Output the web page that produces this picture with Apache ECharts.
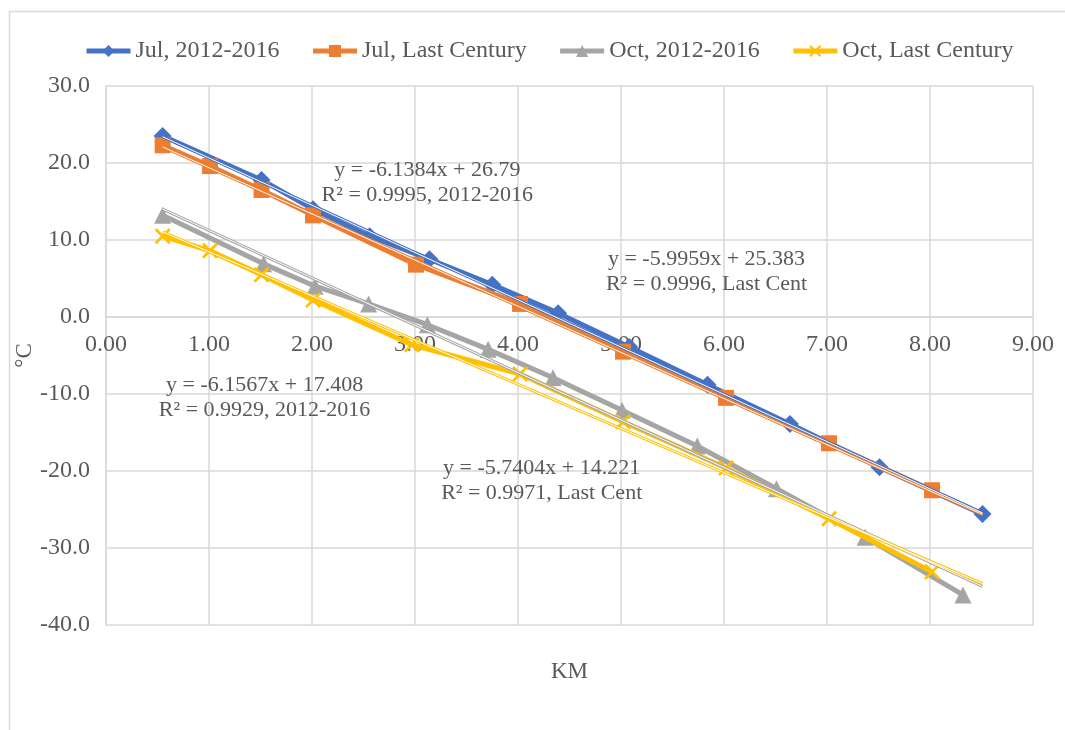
<!DOCTYPE html>
<html>
<head>
<meta charset="utf-8">
<script src="https://cdn.jsdelivr.net/npm/echarts@6/dist/echarts.min.js"></script>
<style>
  html, body { margin: 0; padding: 0; background: #fff; }
  #chart { width: 1065px; height: 730px; }
</style>
</head>
<body>
<div id="chart"></div>
<script>
// Temperature vs. altitude (KM) profiles
const seriesNames = ['Jul, 2012-2016', 'Jul, Last Century', 'Oct, 2012-2016', 'Oct, Last Century'];
const seriesColors = ['#4472C4', '#ED7D31', '#A5A5A5', '#FFC000'];

const julRecentKm = [0.55, 1.51, 2.01, 2.56, 3.14, 3.75, 4.39, 5.08, 5.84, 6.64, 7.51, 8.51];
const julRecentT  = [23.5, 17.8, 14.0, 10.5, 7.5, 4.2, 0.5, -3.9, -8.8, -13.9, -19.5, -25.6];

const julPastKm = [0.55, 1.01, 1.51, 2.01, 3.01, 4.02, 5.02, 6.02, 7.02, 8.02];
const julPastT  = [22.3, 19.6, 16.5, 13.2, 6.8, 1.7, -4.5, -10.5, -16.4, -22.5];

const octRecentKm = [0.55, 1.53, 2.03, 2.55, 3.12, 3.71, 4.34, 5.01, 5.74, 6.51, 7.37, 8.32];
const octRecentT  = [13.2, 6.9, 4.0, 1.7, -1.0, -4.2, -7.9, -12.1, -16.75, -22.3, -28.6, -36.1];

const octPastKm = [0.55, 1.01, 1.51, 2.01, 2.97, 4.02, 5.02, 6.02, 7.02, 8.02];
const octPastT  = [10.5, 8.6, 5.5, 2.2, -3.6, -7.4, -13.6, -19.6, -26.2, -33.1];

// Linear fits (slope, intercept, R²) and their label suffixes
const trendSlope     = [-6.1384, -5.9959, -6.1567, -5.7404];
const trendIntercept = [26.79, 25.383, 17.408, 14.221];
const trendR2        = ['0.9995', '0.9996', '0.9929', '0.9971'];
const trendTag       = ['2012-2016', 'Last Cent', '2012-2016', 'Last Cent'];
const trendRange     = [0.55, 8.51];
// label anchor (KM, °C) for each fit equation
const trendLabelAt   = [[3.12, 17.5], [5.83, 5.9], [1.54, -10.5], [4.23, -21.2]];

const xTicks = { min: 0, max: 9, interval: 1 };
const yTicks = { min: -40, max: 30, interval: 10 };

const FONT = '"Liberation Serif", "Times New Roman", serif';
const TEXT = '#595959';
const GRIDC = '#d9d9d9';

const xMark = 'path://M0,1.2L1.2,0L5,3.8L8.8,0L10,1.2L6.2,5L10,8.8L8.8,10L5,6.2L1.2,10L0,8.8L3.8,5Z';
const symbols = ['diamond', 'rect', 'triangle', xMark];
const symbolSizes = [18, 16, 17, 16];

const kmSets = [julRecentKm, julPastKm, octRecentKm, octPastKm];
const tSets  = [julRecentT, julPastT, octRecentT, octPastT];

const pairs = (xs, ys) => xs.map((x, i) => [x, ys[i]]);

const dataSeries = seriesNames.map((name, i) => ({
  name,
  type: 'line',
  data: pairs(kmSets[i], tSets[i]),
  symbol: symbols[i],
  symbolSize: symbolSizes[i],
  symbolKeepAspect: true,
  showSymbol: true,
  lineStyle: { color: seriesColors[i], width: 5 },
  itemStyle: { color: seriesColors[i], borderWidth: 0 },
  z: 2 + i,
  animation: false
}));

// Fit lines drawn as a thin double stroke (colour outline, white core)
const trendSeries = [];
seriesNames.forEach((name, i) => {
  const pts = trendRange.map(x => [x, trendSlope[i] * x + trendIntercept[i]]);
  trendSeries.push({
    type: 'line', data: pts, symbol: 'none', silent: true,
    lineStyle: { color: seriesColors[i], width: 3 }, z: 10, animation: false
  });
  trendSeries.push({
    type: 'line', data: pts, symbol: 'none', silent: true,
    lineStyle: { color: '#ffffff', width: 1 }, z: 11, animation: false
  });
});

const GRID = { left: 106, right: 32, top: 86, bottom: 105 };

const chart = echarts.init(document.getElementById('chart'), null, { renderer: 'canvas' });

chart.setOption({
  backgroundColor: '#ffffff',
  animation: false,
  grid: Object.assign({ containLabel: false, outerBoundsMode: 'none' }, GRID),
  legend: {
    data: seriesNames,
    left: 79,
    top: 34,
    itemWidth: 44,
    itemHeight: 15,
    itemGap: 31,
    lineStyle: { width: 5 },
    textStyle: { fontFamily: FONT, fontSize: 24, color: TEXT }
  },
  xAxis: {
    type: 'value',
    min: xTicks.min, max: xTicks.max, interval: xTicks.interval,
    name: 'KM',
    nameLocation: 'middle',
    nameMoveOverlap: false,
    nameTextStyle: { fontFamily: FONT, fontSize: 23, color: TEXT },
    axisLine: { show: true, onZero: false, lineStyle: { color: GRIDC, width: 1.5 } },
    axisTick: { show: false },
    axisLabel: {
      fontFamily: FONT, fontSize: 24, color: TEXT, margin: 16,
      formatter: v => v.toFixed(2)
    },
    splitLine: { show: true, lineStyle: { color: GRIDC, width: 1.5 } }
  },
  yAxis: {
    type: 'value',
    min: yTicks.min, max: yTicks.max, interval: yTicks.interval,
    name: '°C',
    nameLocation: 'middle',
    nameGap: 70,
    nameRotate: 90,
    nameMoveOverlap: false,
    nameTextStyle: { fontFamily: FONT, fontSize: 23, color: TEXT },
    axisLine: { show: true, lineStyle: { color: GRIDC, width: 1.5 } },
    axisTick: { show: false },
    axisLabel: {
      fontFamily: FONT, fontSize: 24, color: TEXT, margin: 16,
      formatter: v => v.toFixed(1)
    },
    splitLine: { show: true, lineStyle: { color: GRIDC, width: 1.5 } }
  },
  series: dataSeries.concat(trendSeries)
});

// Move the KM axis up so it crosses the temperature axis at 0 °C;
// the axis title stays just below the plot area.
const zeroY = chart.convertToPixel({ yAxisIndex: 0 }, 0);
const plotBottom = 730 - GRID.bottom;
const shift = zeroY - plotBottom;
chart.setOption({
  xAxis: { offset: shift, nameGap: 35 - shift }
});

// Chart frame and fit equation labels
const graphics = [{
  type: 'rect', left: 7, top: 9, silent: true,
  shape: { width: 1100, height: 800 },
  style: { fill: 'none', stroke: GRIDC, lineWidth: 1.5 },
  z: 0
}];
trendLabelAt.forEach((pos, i) => {
  const p = chart.convertToPixel({ gridIndex: 0 }, pos);
  graphics.push({
    type: 'text', x: p[0], y: p[1], z: 100, silent: true,
    style: {
      text: 'y = ' + trendSlope[i] + 'x + ' + trendIntercept[i] + '\nR² = ' + trendR2[i] + ', ' + trendTag[i],
      font: '22px ' + FONT,
      fill: TEXT,
      align: 'center',
      verticalAlign: 'middle',
      lineHeight: 25
    }
  });
});
chart.setOption({ graphic: graphics });
</script>
</body>
</html>
